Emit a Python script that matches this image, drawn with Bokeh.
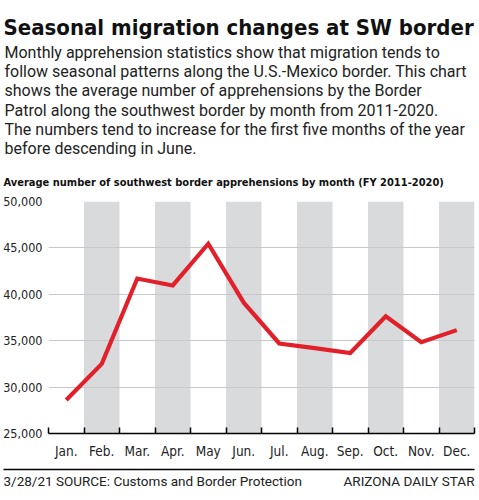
from bokeh.plotting import figure
from bokeh.layouts import column
from bokeh.models import Range1d, FixedTicker, NumeralTickFormatter
from bokeh.core.properties import value
from bokeh.embed import file_html
from bokeh.resources import INLINE

months = ["Jan.", "Feb.", "Mar.", "Apr.", "May", "Jun.", "Jul.", "Aug.", "Sep.", "Oct.", "Nov.", "Dec."]
apprehensions = [28600, 32500, 41700, 40950, 45450, 39100, 34700, 34200, 33670, 37620, 34840, 36140]
y_ticks = [25000, 30000, 35000, 40000, 45000, 50000]

title_text = "Seasonal migration changes at SW border"
body_lines = [
    "Monthly apprehension statistics show that migration tends to",
    "follow seasonal patterns along the U.S.-Mexico border. This chart",
    "shows the average number of apprehensions by the Border",
    "Patrol along the southwest border by month from 2011-2020.",
    "The numbers tend to increase for the first five months of the year",
    "before descending in June.",
]
subtitle_text = "Average number of southwest border apprehensions by month (FY 2011-2020)"
footer_left = "3/28/21 SOURCE: Customs and Border Protection"
footer_right = "ARIZONA DAILY STAR"

COND = "DejaVu Sans Condensed"
BODY = "Roboto"

W = 477
H_HEAD, H_FOOT = 192, 27
ML, MR, MT, MB = 45, 3, 9, 22
FRAME_H = 238
H_CHART = MT + FRAME_H + MB


def text_panel(h):
    f = figure(width=W, height=h, output_backend="svg", toolbar_location=None,
               x_range=Range1d(0, W), y_range=Range1d(h, 0),
               x_axis_location=None, y_axis_location=None, frame_align=False,
               min_border_left=0, min_border_right=0, min_border_top=0, min_border_bottom=0)
    f.grid.visible = False
    f.outline_line_color = None
    f.background_fill_color = "white"
    f.border_fill_color = "white"
    return f


def put(f, x, y, text, font, size, style="normal", align="left", color="#1a1a1a"):
    f.text(x=[x], y=[y], text=[text], text_font=value(font), text_font_size=size,
           text_font_style=style, text_color=color, text_baseline="alphabetic",
           text_align=align)


# ---- header ----
head = text_panel(H_HEAD)
put(head, 3, 27, title_text, COND, "22px", style="bold", color="#111111")
for i, line in enumerate(body_lines):
    put(head, 4, 52 + 19.2 * i, line, BODY, "16px", color="#222222")
put(head, 3, 182, subtitle_text, COND, "11px", style="bold", color="#111111")

# ---- chart ----
x = list(range(1, len(months) + 1))
p = figure(width=W, height=H_CHART, output_backend="svg", toolbar_location=None,
           x_range=Range1d(0.5, len(months) + 0.5),
           y_range=Range1d(y_ticks[0], y_ticks[-1]), frame_align=False,
           min_border_left=ML, min_border_right=MR, min_border_top=MT, min_border_bottom=MB)
p.outline_line_color = None
p.background_fill_color = "white"
p.border_fill_color = "white"

band_x = [x[i] for i in range(len(months)) if i % 2 == 1]
p.vbar(x=band_x, width=1, bottom=y_ticks[0], top=y_ticks[-1],
       fill_color="#d9dadc", line_color=None, level="image")

p.line(x, apprehensions, line_color="#e2202a", line_width=4.2, line_join="miter")

p.xaxis.ticker = FixedTicker(ticks=x, minor_ticks=[v - 0.5 for v in x] + [x[-1] + 0.5])
p.xaxis.major_label_overrides = {v: m for v, m in zip(x, months)}
p.xaxis.major_tick_in = 0
p.xaxis.major_tick_out = 0
p.xaxis.minor_tick_in = 6
p.xaxis.minor_tick_out = 0
p.xaxis.minor_tick_line_color = "black"
p.xaxis.minor_tick_line_width = 1.5
p.xaxis.axis_line_color = "black"
p.xaxis.axis_line_width = 1.5
p.xaxis.major_label_text_font = COND
p.xaxis.major_label_text_font_size = "13.5px"
p.xaxis.major_label_text_color = "#222222"
p.xaxis.major_label_standoff = 9

p.yaxis.ticker = FixedTicker(ticks=y_ticks)
p.yaxis.formatter = NumeralTickFormatter(format="0,0")
p.yaxis.axis_line_color = None
p.yaxis.major_tick_line_color = None
p.yaxis.minor_tick_line_color = None
p.yaxis.major_tick_in = 0
p.yaxis.major_tick_out = 0
p.yaxis.minor_tick_in = 0
p.yaxis.minor_tick_out = 0
p.yaxis.major_label_text_font = COND
p.yaxis.major_label_text_font_size = "12.5px"
p.yaxis.major_label_text_color = "#222222"
p.yaxis.major_label_standoff = 6

p.xgrid.grid_line_color = None
p.ygrid.ticker = FixedTicker(ticks=y_ticks)
p.ygrid.grid_line_color = "#c8c8c8"
p.ygrid.grid_line_width = 1.2

# ---- footer ----
foot = text_panel(H_FOOT)
foot.line(x=[3, W - 3], y=[8, 8], line_color="black", line_width=1.6)
put(foot, 3, 19, footer_left, BODY, "13.5px", color="#222222")
put(foot, W - 3, 19, footer_right, BODY, "13.5px", align="right", color="#222222")

layout = column(head, p, foot, spacing=0)
open("out.html", "w").write(file_html(layout, INLINE))
